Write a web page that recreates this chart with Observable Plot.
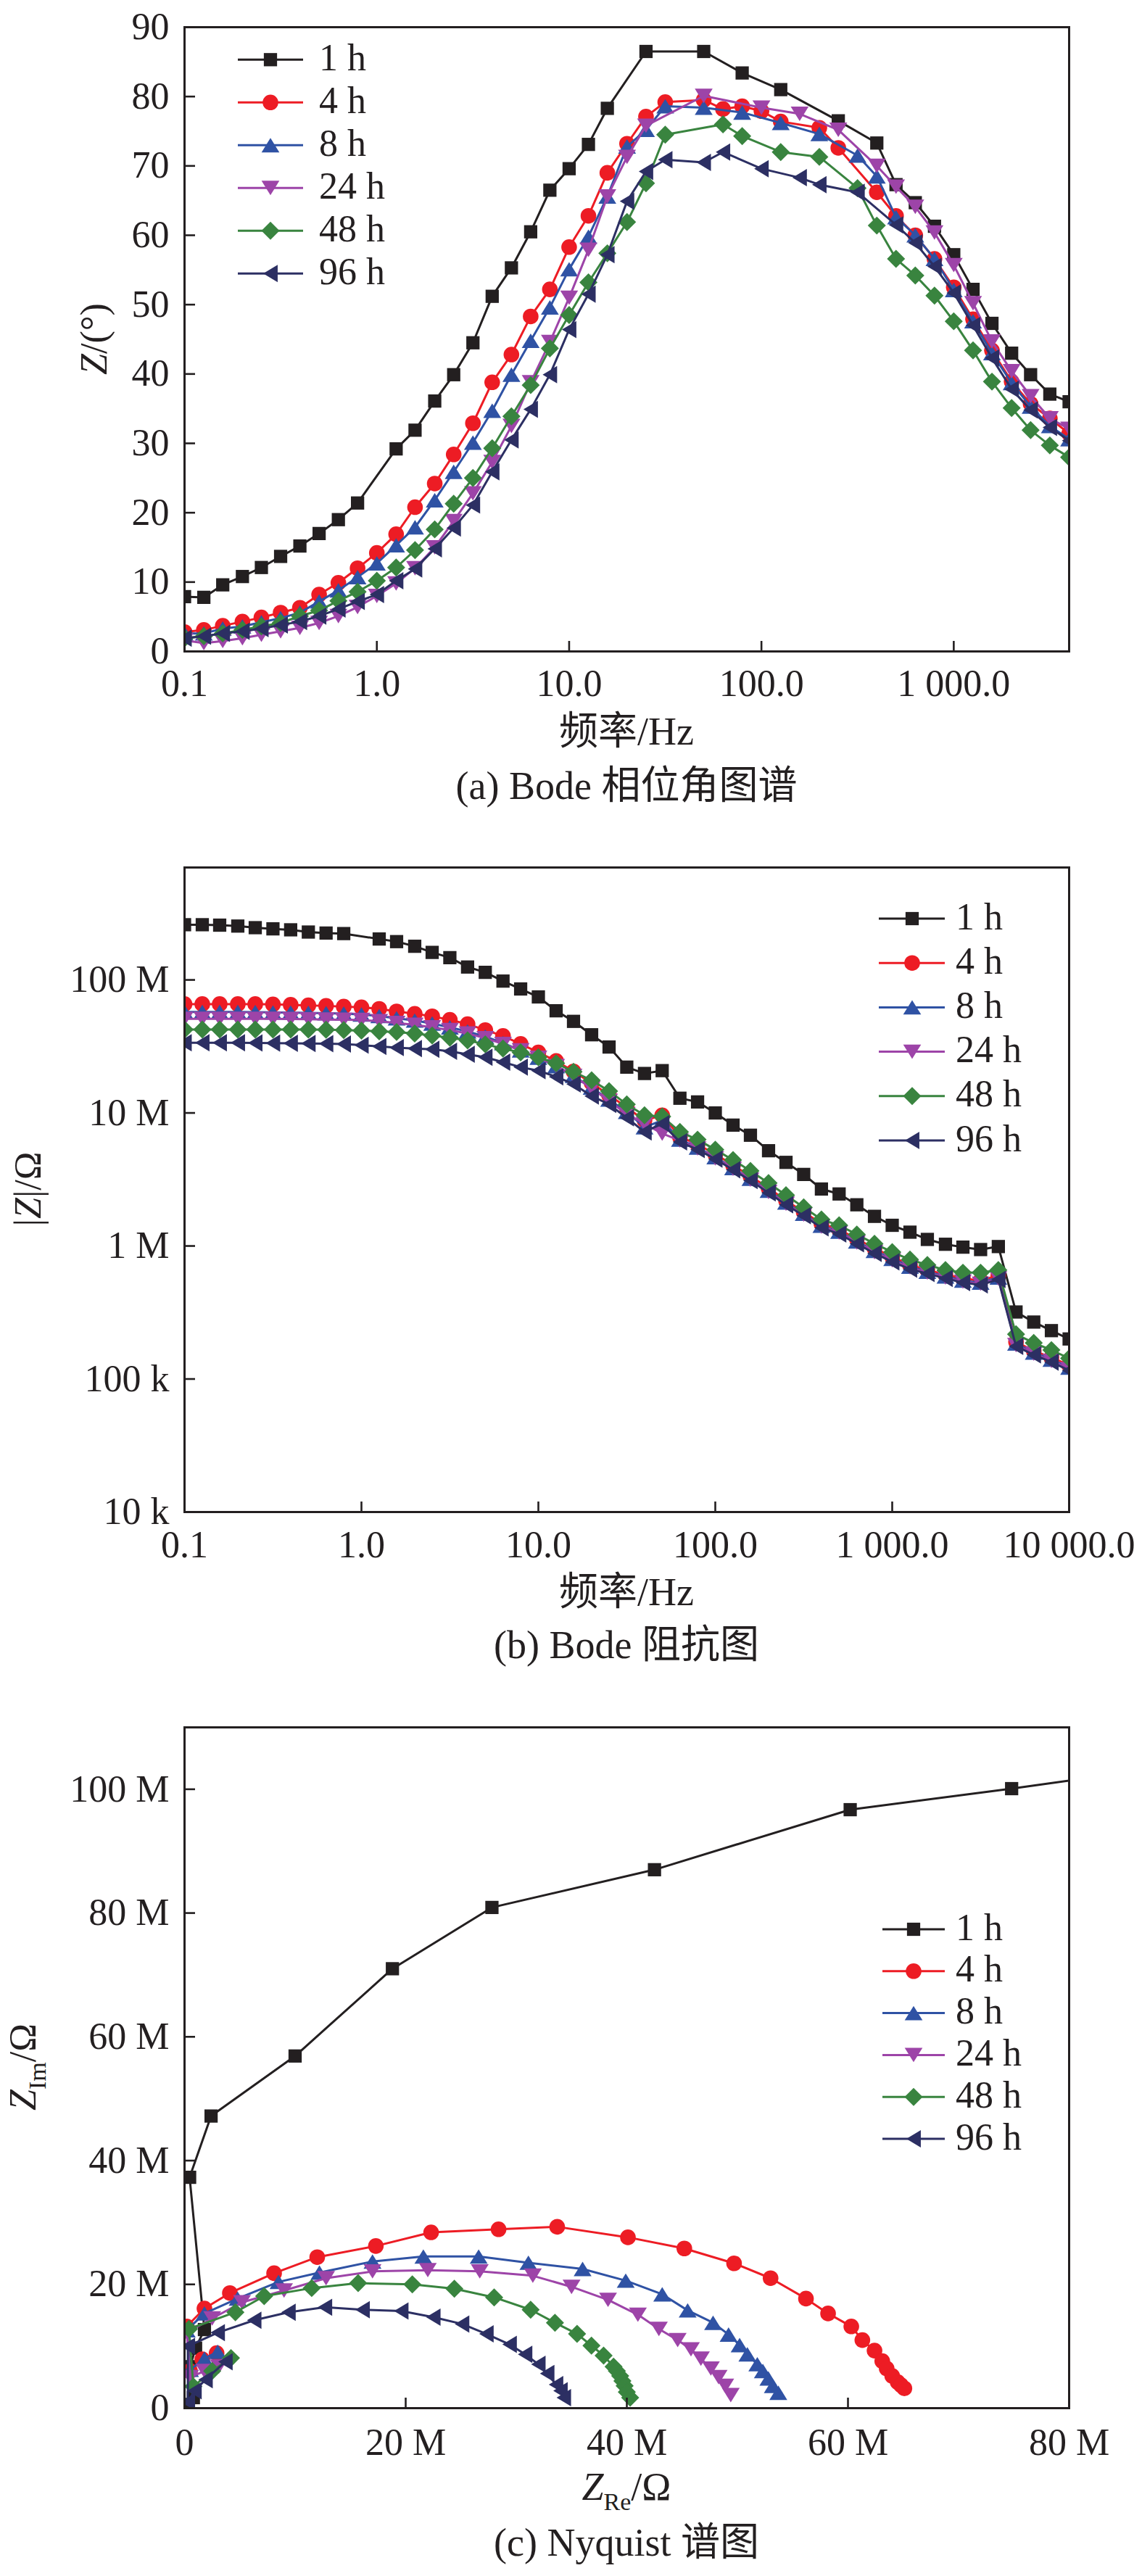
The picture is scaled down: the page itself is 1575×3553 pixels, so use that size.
<!DOCTYPE html>
<html><head><meta charset="utf-8">
<script src="https://cdn.jsdelivr.net/npm/d3@7"></script>
<script src="https://cdn.jsdelivr.net/npm/@observablehq/plot@0.6"></script>
<style>
body{margin:0;background:#fff}
#page{position:relative;width:1575px;height:3553px;overflow:hidden;background:#fff}
.panel{position:absolute;left:0}
</style>
</head><body><div id="page"></div>
<script>
// ---------------- data ----------------
const seriesNames = ["1 h", "4 h", "8 h", "24 h", "48 h", "96 h"];
const seriesColors = ["#231f20", "#ed1c24", "#2f52a4", "#9d44a8", "#39843f", "#2c2f63"];

// frequencies (Hz), 10 points per decade
const freqA = [0.1,0.126,0.158,0.2,0.251,0.316,0.398,0.501,0.631,0.794,
  1,1.26,1.58,2,2.51,3.16,3.98,5.01,6.31,7.94,
  10,12.6,15.8,20,25.1,31.6,39.8,50.1,63.1,79.4,
  100,126,158,200,251,316,398,501,631,794,
  1000,1260,1580,2000,2510,3160,3980];
const freqB = freqA.concat([5010,6310,7940,10000]);

// (a) phase angle, degrees (null = no marker at that frequency)
const phase1h = [7.9,7.8,9.6,10.8,12.1,13.7,15.2,17.0,19.0,21.4,
  null,29.2,31.9,36.1,39.9,44.5,51.2,55.3,60.5,66.5,
  69.6,73.1,78.3,null,86.5,null,null,86.5,null,83.4,
  null,81.0,null,null,76.5,null,73.3,67.3,64.7,61.3,
  57.2,52.2,47.3,43.0,39.9,37.1,36.0];
const phase4h = [2.8,3.1,3.7,4.3,4.9,5.6,6.3,8.2,9.9,12.0,
  14.2,16.9,20.8,24.2,28.4,32.9,38.8,42.8,48.3,52.2,
  58.3,62.8,69.0,73.2,77.1,79.2,null,79.5,78.2,78.6,
  77.9,76.4,null,75.5,72.6,null,66.2,62.8,60.0,56.6,
  52.5,47.9,43.4,38.9,35.7,33.6,31.4];
const phase8h = [2.6,2.6,3.3,3.6,4.2,4.8,5.6,7.2,8.8,10.7,
  12.7,15.3,17.9,21.8,25.9,30.1,34.7,39.9,44.8,49.6,
  55.1,59.8,65.6,72.8,75.2,78.6,null,78.4,null,77.7,
  null,76.2,null,74.6,null,71.5,68.5,62.6,60.0,56.6,
  52.1,47.6,43.0,38.7,35.3,32.5,30.6];
const phase24h = [1.6,1.2,1.5,1.9,2.4,2.9,3.4,4.1,5.1,6.4,
  8.0,9.8,12.0,15.0,18.8,22.8,27.3,32.5,38.8,44.6,
  51.0,57.9,65.6,71.3,75.8,null,null,80.1,null,null,
  78.4,null,77.5,null,75.2,null,70.0,67.0,64.1,60.4,
  55.7,50.2,44.7,40.4,36.8,33.6,32.1];
const phase48h = [1.9,2.2,2.6,3.1,3.6,4.1,5.1,5.9,7.3,8.6,
  10.2,12.1,14.6,17.6,21.3,25.0,29.3,33.9,38.4,43.7,
  48.5,53.2,57.4,61.9,67.5,74.5,null,null,76.0,74.3,
  null,72.0,null,71.3,null,66.8,61.4,56.6,54.2,51.3,
  47.6,43.4,38.9,35.1,31.9,29.7,28.0];
const phase96h = [1.9,2.2,2.6,2.9,3.3,3.8,4.3,5.1,6.1,7.2,
  8.2,10.2,11.9,14.8,17.8,21.1,25.9,30.5,34.9,39.9,
  46.4,51.5,57.2,64.9,69.2,70.9,null,70.5,72.0,null,
  69.6,null,68.3,67.3,null,66.2,null,61.5,58.9,55.5,
  51.7,47.0,42.3,37.8,34.8,32.3,30.4];

// (b) |Z| in MΩ
const mod1h = [260,260,258,254,247,242,238,229,225,223,
  null,203,194,179,161,147,125,114,98,85.5,
  74.5,58.6,48.8,38.7,31.3,22.1,19.8,20.8,12.9,12.1,
  10.0,8.1,6.8,5.2,4.25,3.45,2.68,2.46,2.04,1.67,
  1.43,1.27,1.12,1.03,0.98,0.94,0.99,0.319,0.268,0.231,0.200];
const mod4h = [65.8,65.8,65.8,65.8,65.8,65.5,65.0,64.4,63.8,63.0,
  62.3,60.6,58.0,55.6,53.3,50.1,46.5,42.0,37.9,33.0,
  28.5,24.6,20.5,16.8,13.6,11.0,8.8,9.6,6.6,5.8,
  4.9,4.05,3.35,2.72,2.2,1.8,1.47,1.33,1.13,0.96,
  0.83,0.72,0.66,0.61,0.57,0.55,0.60,0.190,0.163,0.145,0.127];
const mod8h = [57.5,57.5,57.5,57.5,57.3,57.0,56.8,56.5,56.2,55.8,
  55.0,53.5,51.5,49.5,47.0,44.0,41.0,37.5,33.5,29.5,
  26.0,22.5,19.0,15.5,12.6,10.2,7.8,8.8,6.3,5.5,
  4.65,3.85,3.2,2.6,2.12,1.75,1.42,1.28,1.08,0.92,
  0.80,0.70,0.64,0.59,0.55,0.53,0.58,0.185,0.158,0.140,0.122];
const mod24h = [51,51,51,51,51,51,50.8,50.6,50.4,50.2,
  50.0,49.0,47.5,46.0,44.0,42.0,39.5,36.5,33.0,29.5,
  26.0,22.5,19.0,15.3,12.3,9.8,8.3,7.0,6.2,5.4,
  4.55,3.8,3.15,2.55,2.08,1.72,1.40,1.26,1.06,0.90,
  0.78,0.69,0.63,0.58,0.54,0.52,0.57,0.180,0.155,0.137,0.119];
const mod48h = [42.4,42.4,42.4,42.4,42.4,42.4,42.4,42.3,42.2,42.0,
  41.6,41.1,40.6,39.5,38.2,36.8,35.1,32.8,30.5,28.5,
  26.2,23.6,20.4,17.6,14.6,11.6,9.6,9.4,7.2,6.3,
  5.3,4.43,3.67,2.97,2.41,1.95,1.58,1.43,1.22,1.04,
  0.90,0.79,0.72,0.66,0.63,0.63,0.66,0.217,0.187,0.165,0.143];
const mod96h = [33.7,33.7,33.7,33.7,33.6,33.5,33.4,33.3,33.2,33.0,
  32.3,31.6,31.0,30.5,30.1,29.1,27.6,26.2,24.1,22.1,
  20.8,18.7,16.5,13.4,11.6,9.2,7.2,8.3,6.05,5.3,
  4.5,3.74,3.1,2.51,2.04,1.69,1.37,1.23,1.04,0.88,
  0.76,0.67,0.62,0.57,0.53,0.51,0.56,0.176,0.152,0.134,0.116];

// (c) Nyquist, MΩ
const re1h = [0.3,0.8,0.5,1.0,1.8,0.46,2.4,10.0,18.8,27.8,42.5,60.2,74.8,88.0];
const im1h = [0.6,1.7,6.7,9.7,12.7,37.3,47.2,56.9,71.0,80.9,87.0,96.7,100.1,103.4];
const re4h = [2.9,1.6,0.5,0.2,1.8,4.1,8.1,12.0,17.3,22.3,28.4,33.7,40.1,45.2,49.7,53.0,56.2,58.2,60.3,61.3,62.4,63.1,63.5,64.0,64.5,64.8,65.1];
const im4h = [8.9,7.9,6.0,13.2,16.1,18.6,21.8,24.4,26.2,28.4,28.9,29.3,27.6,25.8,23.4,21.0,17.7,15.3,13.2,11.0,9.3,7.6,6.4,5.2,4.2,3.7,3.2];
const re8h = [3.0,1.8,0.5,0.2,1.8,4.8,8.5,12.2,17.0,21.6,26.6,31.1,36.0,39.9,43.2,45.5,47.8,49.2,50.2,50.9,51.8,52.3,52.8,53.2,53.7];
const im8h = [9.1,8.0,6.2,12.6,15.3,17.7,20.4,21.9,23.7,24.5,24.5,23.5,22.5,20.6,18.4,15.8,13.8,11.9,10.2,8.7,7.1,6.0,4.8,3.6,2.5];
const re24h = [3.1,1.8,0.5,0.2,2.5,5.2,9.0,12.8,17.0,22.0,26.7,31.5,35.0,38.3,41.0,42.9,44.6,45.8,46.7,47.6,48.3,48.9,49.4];
const im24h = [6.7,6.0,5.0,12.2,14.5,17.1,19.0,21.0,22.1,22.3,22.1,21.4,19.6,17.5,15.1,12.8,11.0,9.5,8.0,6.4,5.0,3.6,2.1];
const re48h = [4.2,2.5,0.8,0.4,4.6,7.2,11.5,15.7,20.6,24.4,28.0,31.3,33.5,35.5,36.8,37.9,38.8,39.1,39.4,39.6,39.8,40.0,40.3];
const im48h = [8.1,6.0,3.5,12.8,15.5,18.1,19.4,20.2,20.0,19.3,17.9,15.9,13.8,12.0,10.1,8.5,6.7,6.0,5.2,4.4,3.6,2.6,1.7];
const re96h = [3.7,1.9,0.9,0.3,0.3,3.0,6.3,9.4,12.7,16.1,19.6,22.5,25.1,27.3,29.4,30.8,32.0,32.8,33.6,34.0,34.3];
const im96h = [7.5,4.6,2.8,1.0,10.0,12.2,14.2,15.5,16.3,15.9,15.7,14.7,13.6,12.0,10.3,8.7,7.1,5.6,3.8,2.8,1.7];

// tick values & labels
const freqTicksA = [0.1, 1, 10, 100, 1000];
const freqTicksB = [0.1, 1, 10, 100, 1000, 10000];
const freqLabels = {"0.1": "0.1", "1": "1.0", "10": "10.0", "100": "100.0", "1000": "1 000.0", "10000": "10 000.0"};
const phaseTicks = [0, 10, 20, 30, 40, 50, 60, 70, 80, 90];
const modTicks = [0.01, 0.1, 1, 10, 100];
const modLabels = {"0.01": "10 k", "0.1": "100 k", "1": "1 M", "10": "10 M", "100": "100 M"};
const reTicks = [0, 20, 40, 60, 80];
const imTicks = [0, 20, 40, 60, 80, 100];

// ---------------- styling ----------------
const FONT = "'Liberation Serif','Times New Roman','Noto Sans CJK SC',serif";
const INK = "#231f20";
const W = 1575, ML = 254, MR = 101;
const FW = W - ML - MR;

const symSquare = {draw(c, s) { const h = Math.sqrt(s) / 2; c.moveTo(-h, -h); c.lineTo(h, -h); c.lineTo(h, h); c.lineTo(-h, h); c.closePath(); }};
const symCircle = {draw(c, s) { const r = Math.sqrt(s / Math.PI); c.moveTo(r, 0); c.arc(0, 0, r, 0, 2 * Math.PI); c.closePath(); }};
const symTriUp = {draw(c, s) { const L = Math.sqrt(s), w = 0.675 * L, h = 0.546 * L; c.moveTo(0, -h); c.lineTo(w, h); c.lineTo(-w, h); c.closePath(); }};
const symTriDown = {draw(c, s) { const L = Math.sqrt(s), w = 0.675 * L, h = 0.546 * L; c.moveTo(-w, -h); c.lineTo(w, -h); c.lineTo(0, h); c.closePath(); }};
const symDiamond = {draw(c, s) { const d = 0.683 * Math.sqrt(s); c.moveTo(0, -d); c.lineTo(d, 0); c.lineTo(0, d); c.lineTo(-d, 0); c.closePath(); }};
const symTriLeft = {draw(c, s) { const L = Math.sqrt(s), w = 0.546 * L, h = 0.656 * L; c.moveTo(-w, 0); c.lineTo(w, -h); c.lineTo(w, h); c.closePath(); }};
const seriesSymbols = [symSquare, symCircle, symTriUp, symTriDown, symDiamond, symTriLeft];
const seriesR = [10.3, 10.8, 10.3, 10.3, 10.3, 10.3];

const phaseSeries = [phase1h, phase4h, phase8h, phase24h, phase48h, phase96h];
const modSeries = [mod1h, mod4h, mod8h, mod24h, mod48h, mod96h];
const reSeries = [re1h, re4h, re8h, re24h, re48h, re96h];
const imSeries = [im1h, im4h, im8h, im24h, im48h, im96h];

function seriesMarks(tables) {
  const marks = [];
  tables.forEach((data, i) => {
    marks.push(Plot.line(data, {x: "x", y: "y", stroke: seriesColors[i], strokeWidth: 3, clip: true}));
    marks.push(Plot.dot(data, {x: "x", y: "y", fill: seriesColors[i], stroke: "none", symbol: seriesSymbols[i], r: seriesR[i], clip: true}));
  });
  return marks;
}

function makePanel(cfg) {
  const fh = cfg.height - cfg.mt - cfg.mb;
  const svg = Plot.plot({
    width: W, height: cfg.height,
    marginTop: cfg.mt, marginBottom: cfg.mb, marginLeft: ML, marginRight: MR,
    style: {fontFamily: FONT, fontSize: "52px", background: "#fff", color: INK, overflow: "visible"},
    x: cfg.x, y: cfg.y,
    marks: [
      ...seriesMarks(cfg.tables),
      Plot.frame({stroke: INK, strokeWidth: 3}),
      Plot.tickX(cfg.xTicks, {x: d => d, insetTop: fh - 14, stroke: INK, strokeWidth: 2.6}),
      Plot.tickY(cfg.yTicks, {y: d => d, insetRight: FW - 15, stroke: INK, strokeWidth: 2.6}),
      Plot.axisX({ticks: cfg.xTicks, tickFormat: cfg.xFmt, tickSize: 0, tickPadding: cfg.xPad, fontSize: 52, fontFamily: FONT, fill: INK, label: null}),
      Plot.axisY({ticks: cfg.yTicks, tickFormat: cfg.yFmt, tickSize: 0, tickPadding: 21, fontSize: 52, fontFamily: FONT, fill: INK, label: null})
    ]
  });
  const wrap = document.createElement("div");
  wrap.className = "panel";
  wrap.style.top = cfg.top + "px";
  wrap.appendChild(svg);
  document.getElementById("page").appendChild(wrap);
  return d3.select(svg);
}

function addText(svg, x, y, parts, opts = {}) {
  const t = svg.append("text")
    .attr("font-family", FONT).attr("font-size", opts.size || 52).attr("fill", INK)
    .attr("text-anchor", "middle");
  if (opts.rotate) t.attr("transform", `translate(${x},${y}) rotate(-90)`);
  else t.attr("x", x).attr("y", y);
  parts.forEach(p => {
    const s = t.append("tspan").text(p.t);
    if (p.i) s.attr("font-style", "italic");
    if (p.sub) s.attr("font-size", 34).attr("dy", 14);
    if (p.up) s.attr("dy", -14);
  });
  return t;
}

function addLegend(svg, L) {
  seriesNames.forEach((name, i) => {
    const y = L.y0 + i * L.dy;
    svg.append("line").attr("x1", L.x0).attr("x2", L.x1).attr("y1", y).attr("y2", y)
      .attr("stroke", seriesColors[i]).attr("stroke-width", 3);
    svg.append("path").attr("d", d3.symbol(seriesSymbols[i], Math.PI * seriesR[i] * seriesR[i])())
      .attr("transform", `translate(${L.xm},${y})`).attr("fill", seriesColors[i]);
    svg.append("text").attr("x", L.xt).attr("y", y).attr("dy", "0.28em")
      .attr("text-anchor", "start")
      .attr("font-family", FONT).attr("font-size", 52).attr("fill", INK).text(name);
  });
}

const tabA = phaseSeries.map(vals => freqA.map((f, i) => ({x: f, y: vals[i]})).filter(d => d.y != null));
const tabB = modSeries.map(vals => freqB.map((f, i) => ({x: f, y: vals[i]})).filter(d => d.y != null));
const tabC = reSeries.map((re, j) => re.map((r, i) => ({x: r, y: imSeries[j][i]})));

const cx = ML + FW / 2;

// (a)
const svgA = makePanel({
  top: 0, height: 1150, mt: 37, mb: 252,
  x: {type: "log", domain: [0.1, 3981]}, y: {domain: [0, 90]},
  xTicks: freqTicksA, xFmt: d => freqLabels[String(d)], xPad: 25,
  yTicks: phaseTicks, yFmt: d => String(d), tables: tabA
});
addText(svgA, 147, 467.5, [{t: "Z", i: true}, {t: "/(°)"}], {rotate: true});
addText(svgA, cx, 1027, [{t: "频率/Hz"}], {size: 54});
addText(svgA, cx, 1102, [{t: "(a) Bode 相位角图谱"}], {size: 54});
addLegend(svgA, {x0: 328, x1: 418, xm: 373, xt: 440, y0: 82.3, dy: 59});

// (b)
const svgB = makePanel({
  top: 1150, height: 1190, mt: 46, mb: 255,
  x: {type: "log", domain: [0.1, 10000]}, y: {type: "log", domain: [0.01, 700]},
  xTicks: freqTicksB, xFmt: d => freqLabels[String(d)], xPad: 26,
  yTicks: modTicks, yFmt: d => modLabels[String(d)], tables: tabB
});
addText(svgB, 56, 490, [{t: "|"}, {t: "Z", i: true}, {t: "|/Ω"}], {rotate: true});
addText(svgB, cx, 1064, [{t: "频率/Hz"}], {size: 54});
addText(svgB, cx, 1137, [{t: "(b) Bode 阻抗图"}], {size: 54});
addLegend(svgB, {x0: 1212, x1: 1303, xm: 1258, xt: 1318, y0: 117, dy: 61.2});

// (c)
const svgC = makePanel({
  top: 2340, height: 1213, mt: 42, mb: 232,
  x: {domain: [0, 80]}, y: {domain: [0, 110]},
  xTicks: reTicks, xFmt: d => d === 0 ? "0" : d + " M", xPad: 28,
  yTicks: imTicks, yFmt: d => d === 0 ? "0" : d + " M", tables: tabC
});
addText(svgC, 49, 511, [{t: "Z", i: true}, {t: "Im", sub: true}, {t: "/Ω", up: true}], {rotate: true});
addText(svgC, cx, 1108, [{t: "Z", i: true}, {t: "Re", sub: true}, {t: "/Ω", up: true}], {size: 54});
addText(svgC, cx, 1185, [{t: "(c) Nyquist 谱图"}], {size: 54});
addLegend(svgC, {x0: 1217, x1: 1303, xm: 1260, xt: 1318, y0: 321, dy: 57.8});
</script>
</body></html>
